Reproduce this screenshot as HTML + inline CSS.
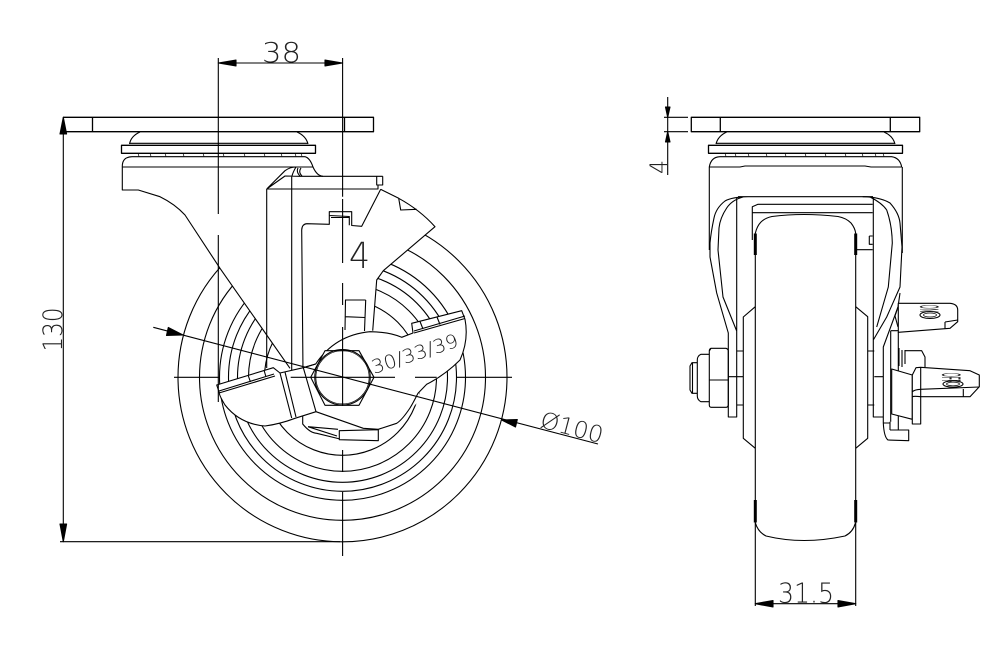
<!DOCTYPE html>
<html><head><meta charset="utf-8"><style>
html,body{margin:0;padding:0;background:#fff}
svg{display:block}
text{font-family:"DejaVu Sans","Liberation Sans",sans-serif;font-weight:200;fill:#222}
</style></head><body>
<svg width="1005" height="663" viewBox="0 0 1005 663" xmlns="http://www.w3.org/2000/svg">
<rect width="1005" height="663" fill="#fff"/>
<g fill="none" stroke="#000" stroke-width="1.1" stroke-linejoin="round">
<!-- wheel circles -->
<g>
<circle cx="342.5" cy="377.3" r="164.5"/><circle cx="342.5" cy="377.3" r="143"/><circle cx="342.5" cy="377.3" r="123"/>
<circle cx="342.5" cy="377.3" r="114"/><circle cx="342.5" cy="377.3" r="105"/><circle cx="342.5" cy="377.3" r="94"/><circle cx="342.5" cy="377.3" r="78"/>
</g>
<!-- white body mask + fork -->
<path fill="#fff" stroke="none" d="M122,167H313L323,176H383V189L381,189L435,227L383,271L377,280L373,331L410,340L420,400L380,440H300L290,368L220,268L185,215L160,197L138,190H122Z"/>
<!-- plate left -->
<path stroke-width="1.3" d="M60,131.7H373.5V117.3H63M92.5,117.3V131.7M344.5,117.3V131.7"/>
<path d="M129.5,144Q131,136 140,132M297,132Q306,136 308,144M129.5,143.3H308"/>
<rect x="121.5" y="145.3" width="194" height="8" stroke-width="1.3"/>
<path d="M122.3,167Q122,157 132,156.7H305Q310,158 313,167H122.3M313,167Q317,176 323,176.3"/>
<path stroke-width=".7" d="M138,153.3l1,3M150,153.3l1,3M165,153.3l1,3M183,153.3l1,3M203,153.3l1,3M223,153.3l1,3M244,153.3l1,3M264,153.3l1,3M281,153.3l1,3M295,153.3l1,3M301,153.3l1,3"/>
<path d="M122.3,167V190H138.3L160,196.7Q175,204 185,215L220,268.3L290,368.3"/>
<path d="M266.7,189L285,170.7Q290,167 296,167M266.7,189L285,176L300,176.3H382.7M266.7,189H378V185M291.7,176.3V372M296,167Q293,172 292,176M300,176Q296,172 298,168M302,176Q298,172 301,168M376.7,176.3V185H382.7V176.3"/>
<path d="M266.7,189V368M303,372L301.7,230Q302,224 307,223.7L329.3,224.3V211.7H351.7V225.5L361.7,226.3L380.7,189.3M329.3,215.5L349.3,216.5V225.3M331,217.5H349"/>
<path d="M380.7,189.3L398.7,198.3Q420,210 435,226.7L383.3,270.7L376.7,280L372.7,330.7M398.7,198.3L400.7,210L416.7,209.3"/>
<path d="M345,300H365.7M345.5,300L345,330M365.7,300L364.5,331M345,316.7L365,317.5"/>
<!-- lever -->
<path fill="#fff" d="M315.7,364Q335,335 370,331.7Q390,332 401.7,337.3L413,333L411.7,323.3L461.7,310.7L465,319.3Q469,340 460,360Q445,375 426.7,384.3L418,393.3Q412,405 410,408Q402,420 396.7,423.3L378.3,429.3L363.3,428.3L316,411.7L295,418.3Q280,424 265,426Q240,424 225,405Q219,395 219.3,392.7L216.7,385L273.3,367.7L280,373L303.3,367.7Z"/>
<path d="M280,373L291.7,418M285,372L296,417M303.3,367.7L316,411.7M303.3,367.7L315.7,364"/>
<path d="M414,331L465,316M414,333L465,318.5M420,321.5L423,329M437,317L440,324.5M219,391L274,374M219,393L275,376M248,375L250.5,382M264,370L266,377"/>
<path d="M302.7,416V424Q310,433 316.7,433.3L340,439M308,426.7L338,429.3M308,426.7L337,436"/>
<path fill="#fff" d="M339.3,430.7L378.3,429.7V440.7L339.3,439.7Z"/>
<!-- hex -->
<path fill="#fff" d="M310.7,377.3L325,350.7H359L374,377.3L359,405.3H325Z"/>
<circle cx="342.5" cy="377.3" r="27.7"/><circle cx="342.5" cy="377.3" r="26.6" stroke-width=".7"/>
<!-- centre lines -->
<path d="M218.3,58V214M218.3,235V402M342.6,58V196.7M342.6,199V263M342.6,283V305M342.6,327V406M342.6,450V472M342.6,492V556M174,377.3H220M290.7,377.3H395M415,377.3H436.7M457,377.3H512"/>
<!-- Dim 100 -->
<path d="M153.3,327.3L598,444"/>
<path fill="#000" d="M183,335L168.3,327.5L166.5,335.5ZM501.7,420L517.3,419.5L515.5,427Z"/>
<!-- dim 38 -->
<path d="M218.3,63H342.6"/>
<path fill="#000" d="M218.3,63L236,60V66ZM342.6,63L325,60V66Z"/>
<!-- dim 130 -->
<path d="M63.3,117.3V541.7M60,541.7H340"/>
<path fill="#000" d="M63.3,117.3L60,134H66.6ZM63.3,541.7L60,524H66.6Z"/>

<!-- RIGHT VIEW -->
<path stroke-width="1.3" d="M691.3,117.3H919.7V131.7H691.3ZM720.3,117.3V131.7M890.3,117.3V131.7"/>
<path d="M716,144Q718,136 726.7,132M884,132Q893,136 895,144M716,143.3H895"/>
<rect x="708.5" y="145.3" width="194" height="8" stroke-width="1.3"/>
<path stroke-width=".7" d="M725,153.3l1,3M735,153.3l1,3M748,153.3l1,3M766,153.3l1,3M785,153.3l1,3M805,153.3l1,3M825,153.3l1,3M845,153.3l1,3M862,153.3l1,3M875,153.3l1,3M883,153.3l1,3"/>
<path d="M709.3,250V167Q711,157 720,156.7H891.7Q900,158 901.7,167M709.3,167H740L745,166H865L871,167H901.7M902.3,167V253"/>
<!-- fork -->
<path d="M738,196.7H873M748,196.7Q732,197 725,201Q716,208 714,218Q711,232 710,243V257L716.7,293L728.3,333V417H736.7V197M743,197Q732,200 726.7,208Q720,218 719,228L718,250L723,297L736.7,331"/>
<path d="M862.7,196.7Q880,197 890,203Q899,213 900,223L902,247L900,287L886.7,317L873.3,340M870,197Q882,203 886.7,210Q892,225 892.3,243L888.3,287L876.7,327M873.3,197V417H874.3M874.3,417H883.3M900,293L898,307L883.3,347V423Q884,437 888,440L908.7,440.7V430H890M883.3,423H890M890,421.7V430M898.3,430V332"/>
<path d="M752.3,240V206.7L758,204.3H872.7M752.3,212.7H872.7M855.7,249.7H872.7M869.3,236H872.7M869.3,236V244.3H872.7"/>
<!-- wheel side -->
<path d="M755.3,233.3V522.7M855.7,233.3V523.3M755.3,233.3Q757,226 761,222Q765,218 772,216.5Q803,212.5 838,216.5Q846,218 851,223Q855,228 855.7,233.3M755.3,522.7Q758,532 766,536Q803,545 845,536Q853,532 855.3,523.3"/>
<path stroke-width="3" d="M755.3,233.5V255M855.7,233.5V255M755.3,500V522.5M855.7,500V522.5"/>
<path d="M755.3,306.7L743.3,317V438.3L755.3,448.3M855.7,306.7L867.7,316.7V438.3L855.7,448.3M736.7,351H743.3M736.7,405H743.3M728.3,376.7H743.3M867.7,351H874.3M867.7,405H874.3M874.3,376.7H883.3"/>
<!-- nut and bolt -->
<path d="M711,348.3H726Q728.3,349 728.3,351V405Q728,407.3 726,407.3H711Q709.3,407 709.3,405V351Q709.3,349 711,348.3ZM709.3,380H728.3M711,348.3L709.3,351"/>
<path d="M709.3,354.3H701Q697.3,356 697.3,360V396Q697.3,400 701,401.7H709.3M697.3,362.7H692L690,366V390L692,393.3H697.3M692.5,362.7V393.3"/>
<!-- right levers -->
<path fill="#fff" d="M898.3,303.3H950Q957.7,304 957.7,310V321.7L950,328.3L898.3,332.3Z"/>
<path d="M945,322V328.6M945,322L957.7,320M898,307L895,316L898,327M890.7,330.7H898.3M890.7,330.7V421.7"/>
<ellipse cx="930" cy="315" rx="10" ry="3.5"/><ellipse cx="930" cy="315" rx="6.5" ry="2" stroke-width=".7"/>
<path d="M899,348V366M902,350V367M905,350.7H921.7L925,357V367M905,350V364"/>
<path fill="#fff" d="M891.7,369L912.3,375V419.3L891.7,414Z"/>
<path fill="#fff" d="M912.3,375L916,367.7L920.7,367.3L970,370.7L979.3,375V386.7L970,396.7H920.7V424H912.3Z"/>
<path d="M920.7,367.5V396.7M963.3,389V396.7M912.3,391.7Q915,389.5 920.7,389.3L979,387M912.3,396.7Q914,396 920.7,396.7"/>
<ellipse cx="953" cy="384" rx="10" ry="3.2"/><ellipse cx="953" cy="384" rx="6.5" ry="1.8" stroke-width=".7"/>
<!-- dim 31.5 -->
<path d="M755.3,523V606M855.7,523V606M755.3,603.7H855.7"/>
<path fill="#000" d="M755.3,603.7L773,600.5V607ZM855.7,603.7L838,600.5V607Z"/>
<!-- dim 4 -->
<path d="M667.7,97V175M664,117.3H688M664,131.7H688"/>
<path fill="#000" d="M667.7,117.3L665.5,107H670ZM667.7,131.7L665.5,142H670Z"/>
</g>
<!-- Text -->
<text x="262" y="62" font-size="28" textLength="39" lengthAdjust="spacingAndGlyphs">38</text>
<text transform="translate(62,351.5) rotate(-90)" x="0" y="0" font-size="27" textLength="44" lengthAdjust="spacingAndGlyphs">130</text>
<text x="349" y="268" font-size="36" textLength="21" lengthAdjust="spacingAndGlyphs">4</text>
<text transform="translate(374,374) rotate(-18)" font-size="19" textLength="90" lengthAdjust="spacingAndGlyphs">30/33/39</text>
<text transform="translate(539,427) rotate(14.7)" font-size="23" textLength="64" lengthAdjust="spacingAndGlyphs">Ø100</text>
<text x="778" y="602.5" font-size="28" textLength="56" lengthAdjust="spacingAndGlyphs">31.5</text>
<text transform="translate(667,174) rotate(-90)" font-size="24" textLength="14" lengthAdjust="spacingAndGlyphs">4</text>
<text transform="translate(920,305) rotate(90)" font-size="27" textLength="7" lengthAdjust="spacingAndGlyphs" style="font-family:'Liberation Sans',sans-serif;font-weight:400">ON</text>
<text transform="translate(942,373) rotate(90)" font-size="27" textLength="9.5" lengthAdjust="spacingAndGlyphs" style="font-family:'Liberation Sans',sans-serif;font-weight:400">OFF</text>
</svg>
</body></html>
